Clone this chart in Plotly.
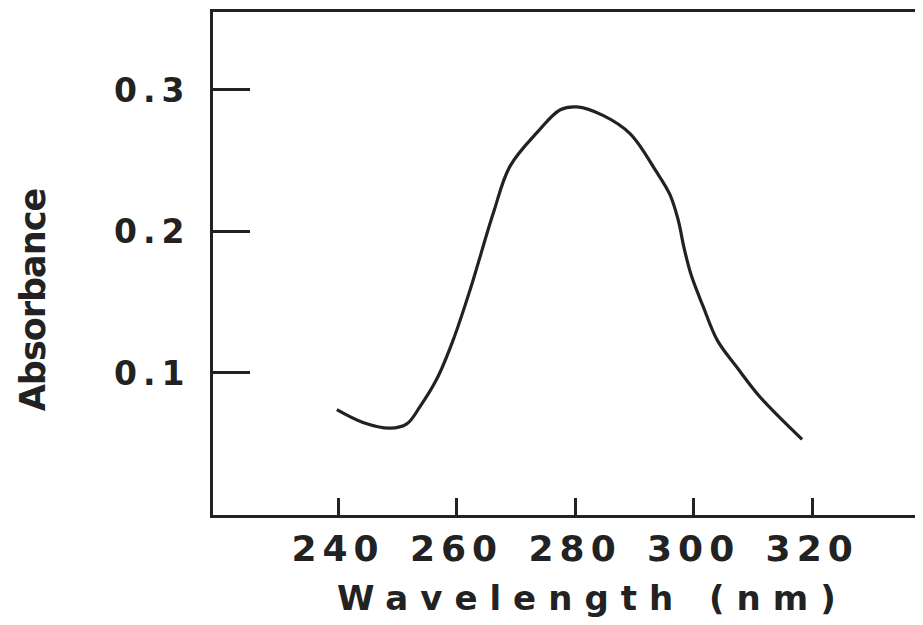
import plotly.graph_objects as go

wavelength = [239.8, 244.2, 248.8, 251.6, 253.8, 256.7, 259.4, 262.3, 266.2, 269.0, 273.6, 277.5,
              280.3, 284.7, 289.3, 293.6, 296.0, 297.4, 298.4, 299.6, 301.6, 304.0, 307.3, 311.2, 318.3]
absorbance = [0.074, 0.065, 0.061, 0.064, 0.076, 0.096, 0.123, 0.159, 0.213, 0.246, 0.270, 0.286,
              0.288, 0.282, 0.269, 0.243, 0.226, 0.208, 0.188, 0.169, 0.147, 0.123, 0.104, 0.083, 0.053]

x_ticks = [240, 260, 280, 300, 320]
x_ticklabels = ["240", "260", "280", "300", "320"]
y_ticks = [0.1, 0.2, 0.3]
y_ticklabels = ["0.1", "0.2", "0.3"]

INK = "#222222"
FONT = "DejaVu Sans"

fig = go.Figure()
fig.add_trace(go.Scatter(x=wavelength, y=absorbance, mode="lines",
                         line=dict(color=INK, width=3.2, shape="spline", smoothing=1.0),
                         showlegend=False, hoverinfo="skip"))

fig.update_layout(
    width=915, height=617,
    margin=dict(l=205, r=0, t=4, b=110, pad=0),
    paper_bgcolor="white", plot_bgcolor="white",
    font=dict(family=FONT, color=INK),
    xaxis=dict(range=[218.9, 338.7], tickvals=x_ticks,
               ticktext=['<span style="letter-spacing:6px">%s</span>' % t for t in x_ticklabels],
               ticks="inside", ticklen=17, tickwidth=3, tickcolor=INK,
               showline=True, linecolor=INK, linewidth=3, mirror=True,
               showgrid=False, zeroline=False,
               tickfont=dict(family=FONT, size=36, color=INK, weight="bold"),
               ticklabelstandoff=0),
    yaxis=dict(range=[-0.0004, 0.3551], tickvals=y_ticks,
               ticktext=['<span style="letter-spacing:6px">%s</span>' % t for t in y_ticklabels],
               ticks="inside", ticklen=37, tickwidth=2.5, tickcolor=INK,
               showline=True, linecolor=INK, linewidth=3, mirror=False,
               showgrid=False, zeroline=False,
               tickfont=dict(family=FONT, size=33, color=INK, weight="bold"),
               ticklabelstandoff=13),
    annotations=[
        dict(text='<span style="letter-spacing:12px">Wavelength (nm)</span>',
             xref="paper", yref="paper", x=0.535, y=-0.165,
             xanchor="center", yanchor="middle", showarrow=False,
             font=dict(family=FONT, size=34, color=INK, weight="bold")),
        dict(text='<span style="letter-spacing:-1px">Absorbance</span>',
             xref="paper", yref="paper", x=-0.2535, y=0.427, textangle=-90,
             xanchor="center", yanchor="middle", showarrow=False,
             font=dict(family=FONT, size=35, color=INK, weight="bold")),
    ],
)

fig.write_html("out.html")
